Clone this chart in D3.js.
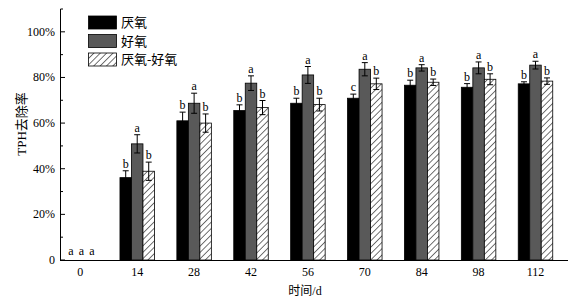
<!DOCTYPE html>
<html><head><meta charset="utf-8">
<script src="https://cdn.jsdelivr.net/npm/d3@7"></script>
<style>body{margin:0;background:#fff}svg{display:block}</style>
</head><body>
<script>
const days = [0, 14, 28, 42, 56, 70, 84, 98, 112];
const seriesNames = ["厌氧", "好氧", "厌氧-好氧"];
const anaerobic = [0, 36.1, 61.0, 65.5, 68.7, 70.9, 76.6, 75.7, 77.2];
const aerobic   = [0, 50.9, 68.7, 77.5, 81.1, 83.6, 84.2, 84.2, 85.4];
const combined  = [0, 38.9, 60.0, 66.8, 68.1, 77.2, 77.9, 79.2, 78.4];
const errAnaerobic = [0, 3.0, 3.8, 2.5, 2.2, 1.8, 2.2, 1.6, 0.9];
const errAerobic   = [0, 4.0, 4.4, 3.2, 3.7, 2.9, 1.4, 2.6, 1.7];
const errCombined  = [0, 4.0, 4.0, 3.1, 2.8, 2.5, 1.4, 2.4, 1.4];
const lblAnaerobic = ["a", "b", "b", "b", "b", "c", "b", "b", "b"];
const lblAerobic   = ["a", "a", "a", "a", "a", "a", "a", "a", "a"];
const lblCombined  = ["a", "b", "b", "b", "b", "b", "b", "b", "b"];
const yTicks = [0, 20, 40, 60, 80, 100];
const yMinor = [10, 30, 50, 70, 90, 110];

const W = 577, H = 303;
const svg = d3.select("body").append("svg").attr("width", W).attr("height", H);
const defs = svg.append("defs");
const pat = defs.append("pattern").attr("id", "hatch").attr("patternUnits", "userSpaceOnUse")
  .attr("width", 4.5).attr("height", 4.5).attr("patternTransform", "rotate(45)");
pat.append("rect").attr("width", 4.5).attr("height", 4.5).attr("fill", "#fff");
pat.append("line").attr("x1", 0).attr("y1", 0).attr("x2", 0).attr("y2", 4.5).attr("stroke", "#000").attr("stroke-width", 1.1);

const x = d3.scaleLinear().domain([-5, 120]).range([60, 568]);
const y = d3.scaleLinear().domain([0, 110]).range([260, 9]);
const fills = ["#000", "#595959", "url(#hatch)"];
const vals = [anaerobic, aerobic, combined];
const errs = [errAnaerobic, errAerobic, errCombined];
const lbls = [lblAnaerobic, lblAerobic, lblCombined];
const bw = 11.5;
const serif = "'Liberation Serif','Times New Roman',serif";

// bars
vals.forEach((arr, s) => {
  const off = (s - 1) * bw;
  days.forEach((d, i) => {
    const cx = x(d) + off;
    const v = arr[i];
    if (v > 0) {
      svg.append("rect").attr("x", cx - bw / 2).attr("y", y(v)).attr("width", bw).attr("height", y(0) - y(v))
        .attr("fill", fills[s]).attr("stroke", "#000").attr("stroke-width", 0.8);
      const e = errs[s][i];
      const g = svg.append("g").attr("stroke", "#000").attr("stroke-width", 1);
      g.append("line").attr("x1", cx).attr("x2", cx).attr("y1", y(v - e)).attr("y2", y(v + e));
      g.append("line").attr("x1", cx - 3).attr("x2", cx + 3).attr("y1", y(v + e)).attr("y2", y(v + e));
      g.append("line").attr("x1", cx - 3).attr("x2", cx + 3).attr("y1", y(v - e)).attr("y2", y(v - e));
      svg.append("text").attr("x", cx).attr("y", y(v + e) - 3).attr("text-anchor", "middle")
        .attr("font-family", serif).attr("font-size", 12).text(lbls[s][i]);
    } else {
      svg.append("text").attr("x", x(d) + (s - 1) * 10.5 + 1).attr("y", y(0) - 5).attr("text-anchor", "middle")
        .attr("font-family", serif).attr("font-size", 12).text(lbls[s][i]);
    }
  });
});

// y axis
svg.append("line").attr("x1", 60.5).attr("x2", 60.5).attr("y1", 260).attr("y2", 9).attr("stroke", "#000");
yTicks.forEach(t => {
  svg.append("line").attr("x1", 60.5).attr("x2", 65).attr("y1", y(t)).attr("y2", y(t)).attr("stroke", "#000");
  svg.append("text").attr("x", 55).attr("y", y(t) + 4).attr("text-anchor", "end")
    .attr("font-family", serif).attr("font-size", 12).text(t === 0 ? "0" : t + "%");
});
yMinor.forEach(t => {
  svg.append("line").attr("x1", 60.5).attr("x2", 63).attr("y1", y(t)).attr("y2", y(t)).attr("stroke", "#000");
});
// x axis
svg.append("line").attr("x1", 60).attr("x2", 568).attr("y1", 260.5).attr("y2", 260.5).attr("stroke", "#000");
days.forEach(d => {
  svg.append("text").attr("x", x(d)).attr("y", 276).attr("text-anchor", "middle")
    .attr("font-family", serif).attr("font-size", 12).text(d);
});
svg.append("text").attr("x", 305).attr("y", 295).attr("text-anchor", "middle")
  .attr("font-family", serif + ",'Noto Sans CJK SC'").attr("font-size", 12).text("时间/d");
svg.append("text").attr("transform", "translate(26,124) rotate(-90)").attr("text-anchor", "middle")
  .attr("font-family", serif + ",'Noto Sans CJK SC'").attr("font-size", 13).text("TPH去除率");

// legend
seriesNames.forEach((n, i) => {
  const ly = 16 + i * 18.5;
  svg.append("rect").attr("x", 88.5).attr("y", ly).attr("width", 28).attr("height", 13)
    .attr("fill", fills[i]).attr("stroke", "#000").attr("stroke-width", 0.8);
  svg.append("text").attr("x", 121).attr("y", ly + 11).attr("font-family", serif + ",'Noto Sans CJK SC'")
    .attr("font-size", 13).text(n);
});
</script>
</body></html>
